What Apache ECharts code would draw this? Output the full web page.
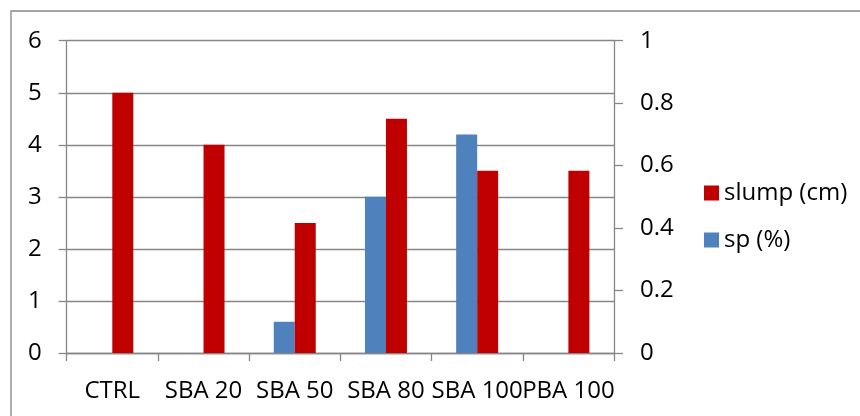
<!DOCTYPE html>
<html><head><meta charset="utf-8">
<script src="https://cdn.jsdelivr.net/npm/echarts@6/dist/echarts.min.js"></script>
<style>html,body{margin:0;padding:0;background:#fff}#c{width:860px;height:416px}</style>
</head><body><div id="c"></div>
<script>
const categories = ['CTRL', 'SBA 20', 'SBA 50', 'SBA 80', 'SBA 100', 'PBA 100'];
const slump = [5, 4, 2.5, 4.5, 3.5, 3.5];
const sp = [0, 0, 0.1, 0.5, 0.7, 0];
const leftTicks = { min: 0, max: 6, interval: 1 };
const rightTicks = { min: 0, max: 1, interval: 0.2 };

const FONT = 'Open Sans';
const FS = 24;
const GRAY = '#868686';
const chart = echarts.init(document.getElementById('c'), null, { renderer: 'canvas' });
chart.setOption({
  animation: false,
  textStyle: { fontFamily: FONT },
  graphic: [{ type: 'rect', shape: { x: 11, y: 11, width: 900, height: 500 }, style: { fill: 'none', stroke: GRAY, lineWidth: 1.3 }, silent: true }],
  grid: { left: 66.7, right: 246, top: 40.7, bottom: 63 },
  legend: {
    orient: 'vertical', left: 699, top: 176, itemWidth: 15, itemHeight: 15, itemGap: 23,
    data: ['slump (cm)', 'sp (%)'],
    textStyle: { fontFamily: FONT, fontSize: FS, color: '#000' },
    icon: 'rect'
  },
  xAxis: {
    type: 'category', data: categories,
    axisLine: { lineStyle: { color: GRAY, width: 1.3 } },
    axisTick: { show: true, length: 8, lineStyle: { color: GRAY, width: 1.3 } },
    axisLabel: { interval: 0, fontFamily: FONT, fontSize: FS, color: '#000', margin: 26 }
  },
  yAxis: [{
    type: 'value', min: leftTicks.min, max: leftTicks.max, interval: leftTicks.interval,
    axisLine: { show: true, lineStyle: { color: GRAY, width: 1.3 } },
    axisTick: { show: true, length: 8, lineStyle: { color: GRAY, width: 1.3 } },
    splitLine: { show: true, lineStyle: { color: GRAY, width: 1.3 } },
    axisLabel: { fontFamily: FONT, fontSize: FS, color: '#000', margin: 25 }
  }, {
    type: 'value', min: rightTicks.min, max: rightTicks.max, interval: rightTicks.interval,
    position: 'right',
    axisLine: { show: true, lineStyle: { color: GRAY, width: 1.3 } },
    axisTick: { show: true, length: 9, lineStyle: { color: GRAY, width: 1.3 } },
    splitLine: { show: false },
    axisLabel: { fontFamily: FONT, fontSize: FS, color: '#000', margin: 26 }
  }],
  series: [{
    name: 'sp (%)', type: 'bar', yAxisIndex: 1, data: sp, barWidth: 21, barGap: '0%',
    itemStyle: { color: '#4F81BD' }
  }, {
    name: 'slump (cm)', type: 'bar', yAxisIndex: 0, data: slump, barWidth: 21, barGap: '0%',
    itemStyle: { color: '#C00000' }
  }]
});
</script></body></html>
